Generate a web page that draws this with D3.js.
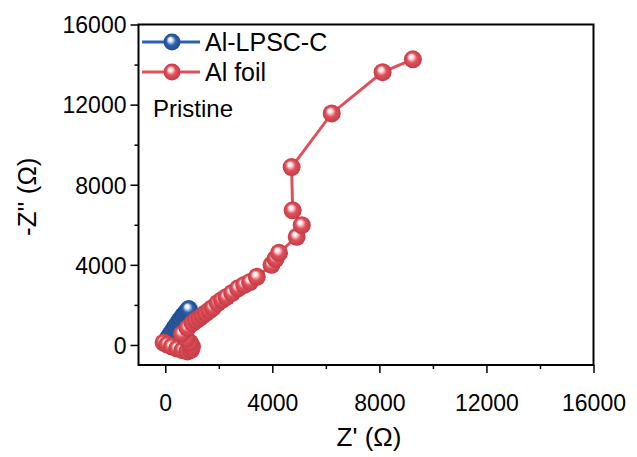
<!DOCTYPE html>
<html>
<head>
<meta charset="utf-8">
<script src="https://cdn.jsdelivr.net/npm/d3@7"></script>
<style>
  body { margin: 0; background: #fff; }
  text { font-family: Arial, "Liberation Sans", sans-serif; }
</style>
</head>
<body>
<script>
// Nyquist data (Z', -Z'') in ohm
const lpscX = [60, 120, 190, 260, 330, 400, 470, 540, 610, 680, 750, 820, 880];
const lpscY = [230, 380, 520, 660, 800, 940, 1080, 1210, 1340, 1460, 1580, 1690, 1790];

const foilX = [-60, 80, 250, 450, 650, 830, 960, 1000, 920, 780, 620,
  830, 1020, 1150, 1280, 1400, 1520, 1650, 1780, 1960, 2120, 2290, 2500, 2720, 2950, 3170, 3420,
  3970, 4120, 4250, 4910, 5100, 4760, 4720, 6220, 8120, 9250];
const foilY = [120, 20, -80, -180, -260, -320, -250, -80, 120, 320, 560,
  850, 1100, 1230, 1350, 1480, 1600, 1730, 1860, 2100, 2250, 2400, 2600, 2830, 3000, 3150, 3400,
  4000, 4300, 4600, 5400, 5980, 6720, 8880, 11560, 13620, 14260];

const xTicks = [0, 4000, 8000, 12000, 16000];
const yTicks = [0, 4000, 8000, 12000, 16000];

const series = [
  { name: "Al-LPSC-C", xs: lpscX, ys: lpscY, color: "#2f62ac", light: "#e8f0fb", dark: "#1d4a8c" },
  { name: "Al foil", xs: foilX, ys: foilY, color: "#e0505a", light: "#fdeaea", dark: "#c43a44" }
];

const width = 637, height = 457;
const margin = { left: 138.5, right: 43.5, top: 24.5, bottom: 92 };

const svg = d3.select("body").append("svg")
  .attr("width", width)
  .attr("height", height);

const x = d3.scaleLinear().domain([-1000, 16000]).range([margin.left, width - margin.right]);
const y = d3.scaleLinear().domain([-1000, 16000]).range([height - margin.bottom, margin.top]);

const defs = svg.append("defs");
series.forEach((s, i) => {
  const g = defs.append("radialGradient")
    .attr("id", "ball" + i)
    .attr("cx", "50%").attr("cy", "50%").attr("r", "50%")
    .attr("fx", "38%").attr("fy", "32%");
  g.append("stop").attr("offset", "0%").attr("stop-color", "#ffffff");
  g.append("stop").attr("offset", "22%").attr("stop-color", s.light);
  g.append("stop").attr("offset", "55%").attr("stop-color", s.color);
  g.append("stop").attr("offset", "100%").attr("stop-color", s.dark);
});

// axes
const fmt = d3.format("d");
const xAxis = d3.axisBottom(x).tickValues(xTicks).tickSize(8).tickPadding(22).tickFormat(fmt);
const xMinor = d3.axisBottom(x).tickValues([2000, 6000, 10000, 14000]).tickSize(4).tickFormat("");
const yAxis = d3.axisLeft(y).tickValues(yTicks).tickSize(8).tickPadding(4).tickFormat(fmt);
const yMinor = d3.axisLeft(y).tickValues([2000, 6000, 10000, 14000]).tickSize(4).tickFormat("");

const bottom = height - margin.bottom;
[xAxis, xMinor].forEach(a => {
  svg.append("g").attr("transform", `translate(0,${bottom})`).call(a)
    .call(g => g.select(".domain").remove())
    .call(g => g.selectAll("line").attr("stroke", "#000").attr("stroke-width", 1.5))
    .call(g => g.selectAll("text").attr("font-size", 23).attr("fill", "#000"));
});
[yAxis, yMinor].forEach(a => {
  svg.append("g").attr("transform", `translate(${margin.left},0)`).call(a)
    .call(g => g.select(".domain").remove())
    .call(g => g.selectAll("line").attr("stroke", "#000").attr("stroke-width", 1.5))
    .call(g => g.selectAll("text").attr("font-size", 23).attr("fill", "#000").attr("dy", "0.36em"));
});

// data
series.forEach((s, i) => {
  const pts = s.xs.map((v, k) => [v, s.ys[k]]);
  svg.append("path")
    .datum(pts)
    .attr("fill", "none")
    .attr("stroke", s.color)
    .attr("stroke-width", 3)
    .attr("d", d3.line().x(d => x(d[0])).y(d => y(d[1])));
  svg.append("g").selectAll("circle")
    .data(pts)
    .join("circle")
    .attr("cx", d => x(d[0]))
    .attr("cy", d => y(d[1]))
    .attr("r", 9)
    .attr("fill", `url(#ball${i})`);
});

// frame
svg.append("rect")
  .attr("x", margin.left).attr("y", margin.top)
  .attr("width", width - margin.left - margin.right)
  .attr("height", height - margin.top - margin.bottom)
  .attr("fill", "none").attr("stroke", "#000").attr("stroke-width", 2);

// legend
series.forEach((s, i) => {
  const ly = 42 + i * 30;
  svg.append("line")
    .attr("x1", 142).attr("x2", 200).attr("y1", ly).attr("y2", ly)
    .attr("stroke", s.color).attr("stroke-width", 3);
  svg.append("circle").attr("cx", 172).attr("cy", ly).attr("r", 8.5)
    .attr("fill", `url(#ball${i})`);
  svg.append("text").attr("x", 205).attr("y", ly).attr("dy", "0.36em")
    .attr("font-size", 25).text(s.name);
});

svg.append("text").attr("x", 153).attr("y", 108).attr("dy", "0.36em")
  .attr("font-size", 24).text("Pristine");

// axis titles
svg.append("text").attr("x", (margin.left + width - margin.right) / 2 + 3).attr("y", 446)
  .attr("text-anchor", "middle").attr("font-size", 26).text("Z' (Ω)");
svg.append("text")
  .attr("transform", `translate(36,${(margin.top + bottom) / 2 + 2}) rotate(-90)`)
  .attr("text-anchor", "middle").attr("font-size", 26).text("-Z'' (Ω)");
</script>
</body>
</html>
